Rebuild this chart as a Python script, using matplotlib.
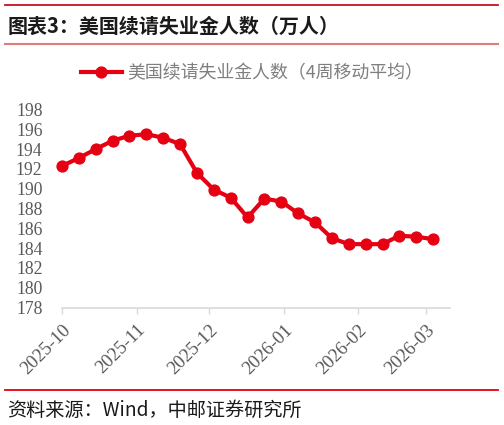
import matplotlib
matplotlib.use("Agg")
import matplotlib.pyplot as plt
from matplotlib.lines import Line2D
import pandas as pd

plt.rcParams['font.family'] = ['Noto Sans CJK SC', 'DejaVu Sans']

# ---- data ----
dates = pd.date_range("2025-10-04", periods=23, freq="7D")
values = [192.3, 193.1, 194.0, 194.85, 195.35, 195.5, 195.15, 194.5,
          191.6, 189.9, 189.1, 187.1, 189.0, 188.7, 187.5, 186.6,
          185.0, 184.4, 184.4, 184.4, 185.25, 185.15, 184.9]
tick_dates = pd.to_datetime(["2025-10-04", "2025-11-04", "2025-12-04",
                             "2026-01-04", "2026-02-04", "2026-03-04"])
tick_labels = ["2025-10", "2025-11", "2025-12", "2026-01", "2026-02", "2026-03"]
y_ticks = list(range(178, 200, 2))
title = "图表3：美国续请失业金人数（万人）"
series_name = "美国续请失业金人数（4周移动平均）"
source = "资料来源：Wind，中邮证券研究所"

RED = "#E50012"
GRAY = "#595959"

W, H = 504, 425
fig = plt.figure(figsize=(W / 100, H / 100), dpi=100)

def fx(px):
    return px / W

def fy(py):
    return 1 - py / H

ax = fig.add_axes([fx(62), fy(307.5), fx(450) - fx(62), fy(109.5) - fy(307.5)])
ax.plot(dates, values, color=RED, lw=3.0, marker="o", ms=7.8,
        markeredgecolor=RED, markerfacecolor=RED, label=series_name,
        solid_joinstyle="round", clip_on=False)

ax.set_ylim(178, 198)
ax.set_yticks(y_ticks)
ax.set_xlim(pd.Timestamp("2025-10-04"), pd.Timestamp("2026-03-14"))
ax.set_xticks(tick_dates)
ax.set_xticklabels(tick_labels)

for s in ["top", "right", "left"]:
    ax.spines[s].set_visible(False)
ax.spines["bottom"].set_color("#D9D9D9")
ax.spines["bottom"].set_linewidth(1.2)

ax.tick_params(axis="y", length=0, pad=14, labelsize=12.7, labelcolor=GRAY)
ax.tick_params(axis="x", length=4, width=1.0, color="#D9D9D9", pad=6,
               labelsize=13.5, labelcolor=GRAY)
for lab in ax.get_yticklabels() + ax.get_xticklabels():
    lab.set_fontfamily(["Liberation Serif", "DejaVu Serif"])
for lab in ax.get_xticklabels():
    lab.set_rotation(45)
    lab.set_ha("right")
    lab.set_va("top")
    lab.set_rotation_mode("anchor")

# legend
leg = fig.legend(handles=[Line2D([0], [0], color=RED, lw=3.0, marker="o", ms=7.8)],
                 labels=[series_name], loc="center",
                 bbox_to_anchor=(fx(252), fy(73)), frameon=False,
                 handlelength=2.3, handletextpad=0.3,
                 prop={"family": ["Noto Sans CJK SC", "DejaVu Sans"], "size": 12.9})
for t in leg.get_texts():
    t.set_color("#7F7F7F")

# decorations
fig.add_artist(Line2D([fx(5), fx(498)], [fy(5), fy(5)], color="#C0141E", lw=1.3))
fig.add_artist(Line2D([fx(5), fx(498)], [fy(43.5), fy(43.5)], color="#E07B7B", lw=1.5))
fig.add_artist(Line2D([fx(5), fx(498)], [fy(390), fy(390)], color="#E3000F", lw=1.3))

fig.text(fx(8), fy(26), title, fontsize=14.4, fontweight="bold",
         color="#1A1A1A", ha="left", va="center")
fig.text(fx(7), fy(410), source, fontsize=13.8, color="#1A1A1A",
         ha="left", va="center")

fig.savefig("out.png", dpi=100)
